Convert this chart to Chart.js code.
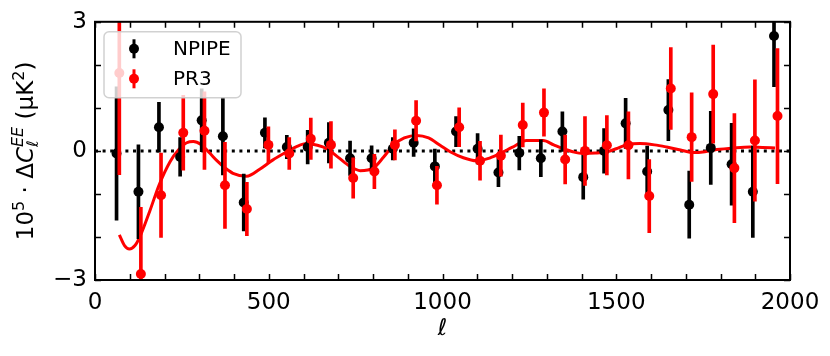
<!DOCTYPE html>
<html><head><meta charset="utf-8">
<script src="https://cdn.jsdelivr.net/npm/chart.js@4.4.1/dist/chart.umd.min.js"></script>
<style>html,body{margin:0;padding:0;background:#fff;}#wrap{width:830px;height:356px;}</style>
</head><body><div id="wrap"><canvas id="c" width="830" height="356"></canvas></div>
<script>
// ---- data ----
const seriesNames = ['NPIPE', 'PR3'];
const npipeL = [62,125,184,245,307,368,428,489,552,612,673,734,796,857,917,978,1039,1101,1161,1221,1283,1345,1405,1465,1527,1589,1650,1710,1772,1832,1893,1954];
const npipeV = [-0.06,-0.95,0.55,-0.14,0.71,0.34,-1.2,0.42,0.09,0.09,0.19,-0.17,-0.17,0.05,0.19,-0.36,0.45,0.05,-0.5,-0.05,-0.17,0.45,-0.61,0.0,0.64,-0.48,0.95,-1.25,0.07,-0.31,-0.95,2.67];
const npipeE = [1.55,1.09,0.58,0.45,0.73,0.9,0.66,0.35,0.27,0.39,0.47,0.4,0.29,0.26,0.32,0.4,0.35,0.35,0.33,0.39,0.43,0.46,0.51,0.52,0.58,0.59,0.71,0.78,0.85,0.95,1.06,1.18];
const pr3L = [70,132,190,254,315,374,437,499,559,621,679,743,804,863,924,984,1048,1108,1168,1231,1292,1353,1410,1473,1535,1595,1657,1717,1779,1840,1899,1964];
const pr3V = [1.81,-2.86,-1.03,0.42,0.47,-0.8,-1.35,0.14,-0.06,0.28,0.14,-0.63,-0.48,0.14,0.7,-0.8,0.55,-0.23,-0.11,0.6,0.89,-0.2,0.0,0.13,0.13,-1.05,1.45,0.32,1.32,-0.4,0.24,0.81];
const pr3E = [2.36,1.55,0.98,0.87,0.9,1.0,0.62,0.42,0.37,0.48,0.54,0.47,0.4,0.35,0.47,0.44,0.45,0.45,0.48,0.51,0.55,0.57,0.8,0.69,0.78,0.85,0.95,1.03,1.14,1.27,1.41,1.57];
const modelL = [70,85,99,115,130,158,185,216,240,264,283,305,330,350,375,397,436,475,510,552,580,609,640,667,700,734,763,801,830,858,890,926,960,993,1022,1060,1098,1130,1165,1200,1242,1290,1320,1348,1375,1405,1440,1473,1500,1530,1568,1610,1645,1685,1722,1755,1789,1840,1885,1920,1957];
const modelV = [-1.95,-2.2,-2.28,-2.2,-1.98,-1.39,-0.78,-0.25,0.02,0.19,0.22,0.15,-0.05,-0.22,-0.4,-0.52,-0.59,-0.42,-0.22,-0.02,0.1,0.17,0.13,0.05,-0.15,-0.36,-0.46,-0.4,-0.15,0.13,0.3,0.36,0.3,0.13,-0.02,-0.16,-0.23,-0.18,-0.06,0.08,0.24,0.24,0.14,0.05,-0.02,-0.06,-0.05,-0.02,0.05,0.14,0.17,0.14,0.09,0.02,-0.04,-0.02,0.03,0.07,0.09,0.08,0.07];
const zeroLineL = [0, 2000];
const zeroLineV = [0, 0];
const xTickLabels = [0, 500, 1000, 1500, 2000];
const yTickLabels = [-3, 0, 3];

const FAM = "'DejaVu Sans', sans-serif";
const RED = '#ff0000';

const pts = (xs, ys) => xs.map((x, i) => ({x, y: ys[i]}));
const bars = (xs, ys, es) => xs.map((x, i) => ({x, y: [ys[i] - es[i], ys[i] + es[i]]}));

function layoutRuns(ctx, runs) {
  let x = 0, stackW = 0;
  const items = [];
  runs.forEach(r => {
    ctx.font = (r.italic ? 'italic ' : '') + r.size + 'px ' + FAM;
    const w = ctx.measureText(r.t).width;
    items.push({r, x});
    if (r.stack) { stackW = Math.max(stackW, w); }
    else { x += Math.max(w, stackW); stackW = 0; }
  });
  return {width: x, items};
}

const plugin = {
  id: 'decor',
  afterDraw(chart) {
    const ctx = chart.ctx, ca = chart.chartArea;
    const xs = chart.scales.x, ys = chart.scales.y;
    ctx.save();
    // inward ticks on all four sides
    ctx.strokeStyle = '#000'; ctx.lineWidth = 1.5;
    ctx.beginPath();
    xs.ticks.forEach(t => {
      const p = Math.round(xs.getPixelForValue(t.value)) + 0.5;
      ctx.moveTo(p, ca.bottom); ctx.lineTo(p, ca.bottom - 6);
      ctx.moveTo(p, ca.top); ctx.lineTo(p, ca.top + 6);
    });
    ys.ticks.forEach(t => {
      const p = Math.round(ys.getPixelForValue(t.value)) + 0.5;
      ctx.moveTo(ca.left, p); ctx.lineTo(ca.left + 6, p);
      ctx.moveTo(ca.right, p); ctx.lineTo(ca.right - 6, p);
    });
    ctx.stroke();
    // frame
    ctx.lineWidth = 2;
    ctx.strokeRect(ca.left, ca.top, ca.right - ca.left, ca.bottom - ca.top);

    // legend
    const lx = ca.left + 9, ly = ca.top + 10, lw = 137, lh = 66;
    ctx.beginPath();
    ctx.roundRect(lx, ly, lw, lh, 5);
    ctx.fillStyle = 'rgba(255,255,255,0.8)';
    ctx.fill();
    ctx.strokeStyle = 'rgba(204,204,204,0.9)';
    ctx.lineWidth = 1.5;
    ctx.stroke();
    const cols = ['#000', RED];
    seriesNames.forEach((name, i) => {
      const gx = lx + 30, gy = ly + 17 + i * 30;
      ctx.fillStyle = cols[i]; ctx.strokeStyle = cols[i];
      ctx.lineWidth = 3;
      ctx.beginPath(); ctx.moveTo(gx, gy - 9.5); ctx.lineTo(gx, gy + 9.5); ctx.stroke();
      ctx.beginPath(); ctx.arc(gx, gy, 5, 0, Math.PI * 2); ctx.fill();
      ctx.fillStyle = '#000';
      ctx.font = '20px ' + FAM;
      ctx.textBaseline = 'middle'; ctx.textAlign = 'left';
      ctx.fillText(name, lx + 69, gy + 1);
    });

    // x title
    ctx.fillStyle = '#000';
    ctx.font = 'italic 23px ' + FAM;
    ctx.textAlign = 'center'; ctx.textBaseline = 'alphabetic';
    ctx.fillText('ℓ', (ca.left + ca.right) / 2, 335);

    // y title
    const S = 23, s = 16;
    const runs = [
      {t: '10', size: S}, {t: '5', size: s, dy: -9},
      {t: ' · Δ', size: S}, {t: 'C', size: S, italic: true},
      {t: 'EE', size: s, italic: true, dy: -10, stack: true}, {t: 'ℓ', size: s, italic: true, dy: 5},
      {t: ' (μK', size: S}, {t: '2', size: s, dy: -9}, {t: ')', size: S}
    ];
    const m = layoutRuns(ctx, runs);
    ctx.translate(33, (ca.top + ca.bottom) / 2);
    ctx.rotate(-Math.PI / 2);
    ctx.textAlign = 'left'; ctx.textBaseline = 'alphabetic';
    m.items.forEach(it => {
      ctx.font = (it.r.italic ? 'italic ' : '') + it.r.size + 'px ' + FAM;
      ctx.fillText(it.r.t, it.x - m.width / 2, it.r.dy || 0);
    });
    ctx.restore();
  }
};

new Chart(document.getElementById('c'), {
  type: 'scatter',
  data: {
    datasets: [
      {type: 'line', label: 'zero', data: pts(zeroLineL, zeroLineV), borderColor: '#000', borderWidth: 3, borderDash: [3, 4.6], pointRadius: 0, order: 6},
      {type: 'line', label: 'model', data: pts(modelL, modelV), borderColor: RED, borderWidth: 3, pointRadius: 0, cubicInterpolationMode: 'monotone', order: 5},
      {type: 'bar', label: seriesNames[0] + ' err', stack: 'eb', data: bars(npipeL, npipeV, npipeE), backgroundColor: '#000', barThickness: 3, borderWidth: 0, order: 4},
      {type: 'scatter', label: seriesNames[0], data: pts(npipeL, npipeV), pointRadius: 5, backgroundColor: '#000', borderWidth: 0, order: 3},
      {type: 'bar', label: seriesNames[1] + ' err', stack: 'eb', data: bars(pr3L, pr3V, pr3E), backgroundColor: RED, barThickness: 3, borderWidth: 0, order: 2},
      {type: 'scatter', label: seriesNames[1], data: pts(pr3L, pr3V), pointRadius: 5, backgroundColor: RED, borderWidth: 0, order: 1}
    ]
  },
  options: {
    responsive: false, animation: false, devicePixelRatio: 1,
    layout: {padding: {top: 17, right: 40, left: 0, bottom: 0}},
    plugins: {legend: {display: false}, tooltip: {enabled: false}},
    scales: {
      x: {type: 'linear', min: 0, max: 2000, offset: false,
        grid: {display: false, drawTicks: false}, border: {display: false},
        ticks: {stepSize: 100, autoSkip: false, maxRotation: 0, padding: 9, color: '#000', font: {family: FAM, size: 23},
          callback: v => xTickLabels.includes(v) ? String(v) : ''},
        afterFit(sc) { sc.height = 76; }
      },
      y: {type: 'linear', min: -3, max: 3, stacked: false,
        grid: {display: false, drawTicks: false}, border: {display: false},
        ticks: {stepSize: 1, padding: 8, color: '#000', font: {family: FAM, size: 23},
          callback: v => yTickLabels.includes(v) ? (v < 0 ? '−' + Math.abs(v) : String(v)) : ''},
        afterFit(sc) { sc.width = 95; }
      }
    }
  },
  plugins: [plugin]
});
</script></body></html>
